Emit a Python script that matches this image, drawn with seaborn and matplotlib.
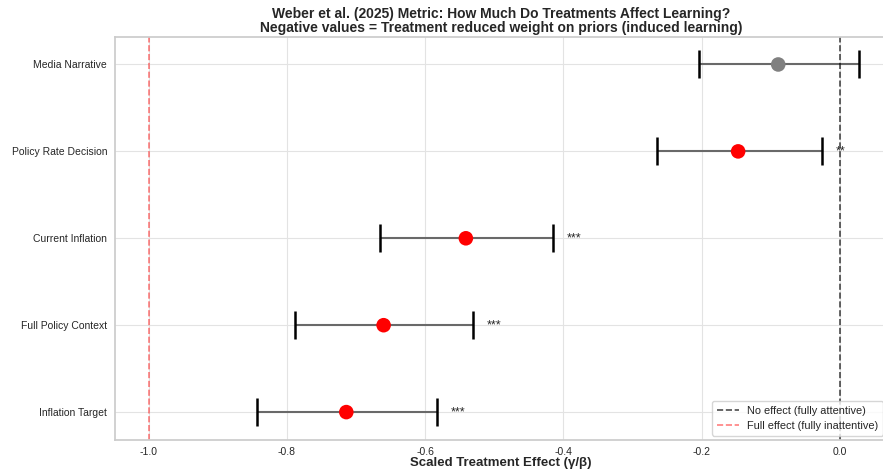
import matplotlib
matplotlib.use("Agg")
import matplotlib.pyplot as plt
import seaborn as sns
import numpy as np
import pandas as pd

treatments = ["Media Narrative", "Policy Rate Decision", "Current Inflation",
              "Full Policy Context", "Inflation Target"]
effects = [-0.089, -0.147, -0.541, -0.660, -0.714]
ci_low = [-0.203, -0.264, -0.665, -0.788, -0.843]
ci_high = [0.028, -0.026, -0.415, -0.531, -0.583]
stars = ["", "**", "***", "***", "***"]
point_colors = ["gray", "red", "red", "red", "red"]

df = pd.DataFrame({"treatment": treatments, "effect": effects,
                   "lo": ci_low, "hi": ci_high, "stars": stars, "color": point_colors})

sns.set_theme(style="whitegrid")
plt.rcParams["font.family"] = ["Liberation Sans", "DejaVu Sans"]
plt.rcParams["axes.unicode_minus"] = False

fig = plt.figure(figsize=(8.83, 4.7), dpi=100)
ax = fig.add_axes([0.130, 0.064, 0.875, 0.858])

ypos = np.arange(len(df))
for i, row in df.iterrows():
    eb = ax.errorbar(row.effect, i, xerr=[[row.effect - row.lo], [row.hi - row.effect]],
                     fmt="none", ecolor="dimgray", elinewidth=1.5, capsize=10, capthick=1.8,
                     zorder=2)
    for cl in eb[1]:
        cl.set_markeredgecolor("black")
        cl.set_color("black")
sns.scatterplot(data=df, x="effect", y=ypos, hue="treatment",
                palette=dict(zip(df.treatment, df.color)), s=110, edgecolor="none",
                legend=False, ax=ax, zorder=3)
for i, row in df.iterrows():
    if row.stars:
        ax.text(row.hi + 0.02, i, row.stars, ha="left", va="center", fontsize=9)

l1 = ax.axvline(0, color="black", linestyle="--", linewidth=1.2, alpha=0.7,
                label="No effect (fully attentive)")
l2 = ax.axvline(-1, color="red", linestyle="--", linewidth=1.2, alpha=0.5,
                label="Full effect (fully inattentive)")

ax.set_yticks(ypos)
ax.set_yticklabels(treatments, fontsize=7.5)
ax.set_ylim(4.32, -0.32)
ax.set_xlim(-1.049, 0.069)
ax.set_xticks([-1.0, -0.8, -0.6, -0.4, -0.2, 0.0])
ax.tick_params(axis="x", labelsize=7.5, pad=5, length=0)
ax.tick_params(axis="y", pad=5.5, length=0)
ax.set_ylabel("")
ax.set_xlabel("Scaled Treatment Effect (γ/β)", fontsize=9.5, fontweight="bold", labelpad=0)
ax.set_title("Weber et al. (2025) Metric: How Much Do Treatments Affect Learning?\n"
             "Negative values = Treatment reduced weight on priors (induced learning)",
             fontsize=10, fontweight="bold", pad=3, linespacing=1.0)
ax.legend(handles=[l1, l2], loc="lower right", fontsize=7.9, frameon=True,
          borderaxespad=0.4)
ax.grid(True, color="#e3e3e3", linewidth=0.8)
for s in ax.spines.values():
    s.set_color("#cccccc")

fig.savefig("out.png", dpi=100)
